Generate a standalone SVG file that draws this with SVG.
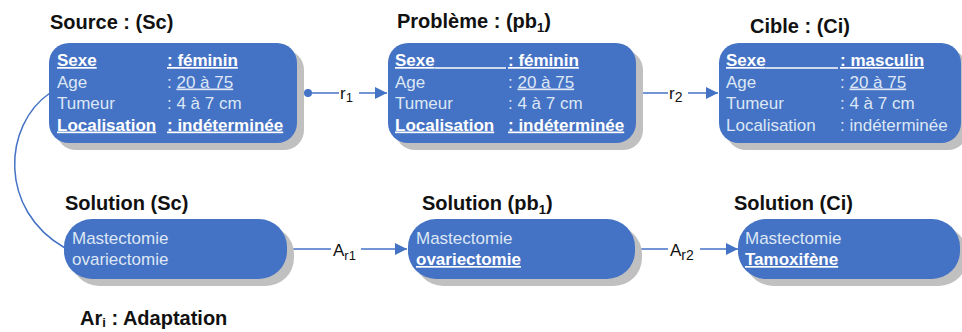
<svg xmlns="http://www.w3.org/2000/svg" width="962" height="332" viewBox="0 0 962 332">
<style>
.title{font-family:"Liberation Sans",Arial,sans-serif;font-weight:bold;font-size:20px;fill:#111}
.t{font-family:"Liberation Sans",Arial,sans-serif;font-size:17px;fill:#dde7f5}
.b{font-weight:bold;fill:#ffffff}
.u{text-decoration:underline}
.box{fill:#4472c4}
.sh{fill:#c0c0c0}
.ul{stroke:#ffffff;stroke-width:1.3}
.lbl{font-family:"Liberation Sans",Arial,sans-serif;font-size:17px;fill:#111}
.con{stroke:#4472c4;stroke-width:1.5;fill:none}
</style>
<defs>
<marker id="arr" viewBox="0 0 12 12" refX="12" refY="6" markerWidth="12" markerHeight="12" markerUnits="userSpaceOnUse" orient="auto">
<path d="M0,0 L12,6 L0,12 z" fill="#4472c4"/>
</marker>
</defs>

<g id="connectors">
<path class="con" d="M50,93 C3,125 -2,210 65,248"/>
<line class="con" x1="308" y1="93" x2="387" y2="93" marker-end="url(#arr)"/>
<circle cx="308" cy="93" r="4" fill="#4472c4"/>
<line class="con" x1="637" y1="93" x2="718" y2="93" marker-end="url(#arr)"/>
<circle cx="637" cy="93" r="4" fill="#4472c4"/>
<line class="con" x1="288" y1="249" x2="407" y2="249" marker-end="url(#arr)"/>
<circle cx="288" cy="249" r="4" fill="#4472c4"/>
<line class="con" x1="634" y1="249" x2="738" y2="249" marker-end="url(#arr)"/>
<circle cx="634" cy="249" r="4" fill="#4472c4"/>
<rect x="339" y="84" width="20" height="20" fill="#fff"/>
<text class="lbl" x="340" y="99" font-size="23">r<tspan font-size="13" dy="3">1</tspan></text>
<rect x="668" y="84" width="20" height="20" fill="#fff"/>
<text class="lbl" x="669" y="99" font-size="23">r<tspan font-size="14" dy="3">2</tspan></text>
<rect x="331" y="238" width="30" height="24" fill="#fff"/>
<text class="lbl" x="333" y="256" font-size="20">A<tspan font-size="13" dy="4">r1</tspan></text>
<rect x="668" y="238" width="32" height="24" fill="#fff"/>
<text class="lbl" x="670" y="256" font-size="20">A<tspan font-size="14" dy="4">r2</tspan></text>
</g>

<g id="source">
<text class="title" x="50" y="29">Source : (Sc)</text>
<rect class="sh" x="56" y="50" width="248" height="100" rx="20"/>
<rect class="box" x="49" y="43" width="248" height="100" rx="20"/>
<text class="t b u" x="57" y="66">Sexe</text>
<text class="t b u" x="167" y="66">: féminin</text>
<text class="t" x="57" y="87.5">Age</text>
<text class="t" x="167" y="87.5">: <tspan class="u">20 à 75</tspan></text>
<text class="t" x="57" y="109">Tumeur</text>
<text class="t" x="167" y="109">: 4 à 7 cm</text>
<text class="t b u" x="57" y="130.5">Localisation </text>
<text class="t b u" x="167" y="130.5">: indéterminée</text>
</g>

<g id="probleme">
<text class="title" x="397" y="28">Problème : (pb<tspan font-size="13" dy="4">1</tspan><tspan dy="-4">)</tspan></text>
<rect class="sh" x="395" y="50" width="248" height="100" rx="20"/>
<rect class="box" x="388" y="43" width="248" height="100" rx="20"/>
<text class="t b u" x="395" y="66">Sexe</text>
<line class="ul" x1="435" y1="68" x2="506" y2="68"/>
<text class="t b u" x="508" y="66">: féminin</text>
<text class="t" x="395" y="87.5">Age</text>
<text class="t" x="508" y="87.5">: <tspan class="u">20 à 75</tspan></text>
<text class="t" x="395" y="109">Tumeur</text>
<text class="t" x="508" y="109">: 4 à 7 cm</text>
<text class="t b u" x="395" y="130.5">Localisation </text>
<text class="t b u" x="508" y="130.5">: indéterminée</text>
</g>

<g id="cible">
<text class="title" x="750" y="33">Cible : (Ci)</text>
<rect class="sh" x="726" y="50" width="242" height="100" rx="20"/>
<rect class="box" x="719" y="43" width="242" height="100" rx="20"/>
<text class="t b u" x="726" y="66">Sexe</text>
<line class="ul" x1="766" y1="68" x2="838" y2="68"/>
<text class="t b u" x="840" y="66">: masculin</text>
<text class="t" x="726" y="87.5">Age</text>
<text class="t" x="840" y="87.5">: <tspan class="u">20 à 75</tspan></text>
<text class="t" x="726" y="109">Tumeur</text>
<text class="t" x="840" y="109">: 4 à 7 cm</text>
<text class="t" x="726" y="130.5">Localisation</text>
<text class="t" x="840" y="130.5">: indéterminée</text>
</g>

<g id="solution-sc">
<text class="title" x="65" y="210">Solution (Sc)</text>
<rect class="sh" x="71" y="226" width="223" height="60" rx="28"/>
<rect class="box" x="64" y="219" width="223" height="60" rx="28"/>
<text class="t" x="72" y="244">Mastectomie</text>
<text class="t" x="72" y="265">ovariectomie</text>
</g>

<g id="solution-pb">
<text class="title" x="422" y="210">Solution (pb<tspan font-size="13" dy="4">1</tspan><tspan dy="-4">)</tspan></text>
<rect class="sh" x="415" y="226" width="227" height="60" rx="28"/>
<rect class="box" x="408" y="219" width="227" height="60" rx="28"/>
<text class="t" x="416" y="244">Mastectomie</text>
<text class="t b u" x="416" y="265">ovariectomie</text>
</g>

<g id="solution-ci">
<text class="title" x="734" y="210">Solution (Ci)</text>
<rect class="sh" x="745" y="226" width="222" height="60" rx="28"/>
<rect class="box" x="738" y="219" width="222" height="60" rx="28"/>
<text class="t" x="745" y="244">Mastectomie</text>
<text class="t b u" x="745" y="265">Tamoxifène</text>
</g>

<g id="legend">
<text class="title" x="80" y="325">Ar<tspan font-size="13" dy="2">i</tspan><tspan dy="-2"> : Adaptation</tspan></text>
</g>
</svg>
